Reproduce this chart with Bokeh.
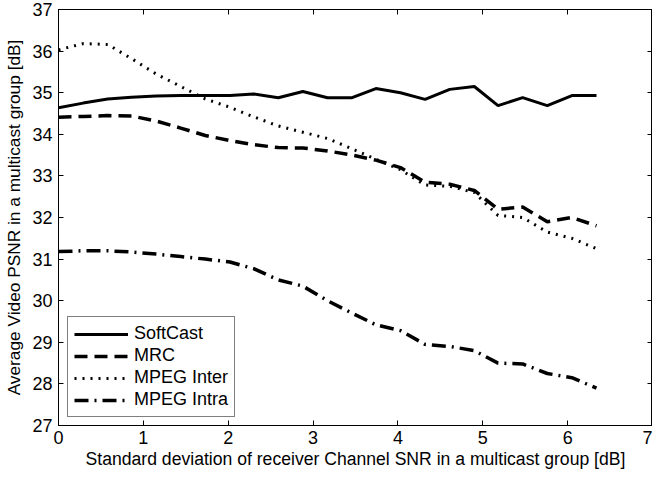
from bokeh.plotting import figure
from bokeh.models import LinearAxis, FixedTicker, Legend, LegendItem, Range1d
from bokeh.embed import file_html
from bokeh.resources import INLINE

# ---- data ----
x_std = [0.00, 0.29, 0.58, 0.86, 1.15, 1.44, 1.73, 2.02, 2.30, 2.59, 2.88, 3.17,
         3.46, 3.74, 4.03, 4.32, 4.61, 4.90, 5.18, 5.47, 5.76, 6.05, 6.34]
softcast = [34.64, 34.75, 34.85, 34.89, 34.92, 34.93, 34.93, 34.93, 34.97, 34.88, 35.03, 34.88,
            34.88, 35.10, 35.00, 34.84, 35.08, 35.15, 34.69, 34.88, 34.69, 34.93, 34.93]
mrc = [34.41, 34.43, 34.45, 34.44, 34.32, 34.15, 33.97, 33.85, 33.75, 33.68, 33.67, 33.60,
       33.50, 33.38, 33.20, 32.85, 32.80, 32.65, 32.20, 32.25, 31.90, 32.00, 31.80]
mpeg_inter = [36.03, 36.18, 36.16, 35.82, 35.45, 35.15, 34.85, 34.65, 34.42, 34.20, 34.05, 33.90,
              33.65, 33.40, 33.15, 32.78, 32.75, 32.60, 32.05, 32.00, 31.65, 31.50, 31.25]
mpeg_intra = [31.18, 31.20, 31.20, 31.17, 31.12, 31.06, 31.00, 30.93, 30.77, 30.50, 30.35, 30.00,
              29.70, 29.42, 29.28, 28.95, 28.90, 28.80, 28.50, 28.48, 28.25, 28.15, 27.90]
series_names = ["SoftCast", "MRC", "MPEG Inter", "MPEG Intra"]
x_ticks = [0, 1, 2, 3, 4, 5, 6, 7]
y_ticks = [27, 28, 29, 30, 31, 32, 33, 34, 35, 36, 37]

FONT = "Liberation Sans"

p = figure(width=652, height=479, output_backend="svg", toolbar_location=None,
           x_range=Range1d(0, 7), y_range=Range1d(27, 37),
           min_border_left=58, min_border_right=0, min_border_top=9, min_border_bottom=54,
           background_fill_color="white", border_fill_color="white")
p.outline_line_color = "black"
p.outline_line_width = 1
p.xgrid.visible = False
p.ygrid.visible = False

def style_axis(ax, ticks, labels=True):
    ax.axis_line_color = "black"
    ax.major_tick_line_color = "black"
    ax.major_tick_in = 5
    ax.major_tick_out = 0
    ax.minor_tick_line_color = None
    ax.major_label_text_font = FONT
    ax.major_label_text_color = "black"
    ax.axis_label_text_font = FONT
    ax.axis_label_text_font_style = "normal"
    ax.axis_label_text_color = "black"
    if not labels:
        ax.major_label_overrides = {t: "" for t in ticks}
        ax.major_label_standoff = 0
        ax.major_label_text_font_size = "1px"

p.xaxis.ticker = FixedTicker(ticks=x_ticks)
p.yaxis.ticker = FixedTicker(ticks=y_ticks)
style_axis(p.xaxis[0], x_ticks)
style_axis(p.yaxis[0], y_ticks)
p.xaxis.major_label_text_font_size = "18px"
p.yaxis.major_label_text_font_size = "18px"
p.xaxis.major_label_standoff = 5
p.yaxis.major_label_standoff = 6
p.xaxis.axis_label = "Standard deviation of receiver Channel SNR in a multicast group [dB]"
p.yaxis.axis_label = "Average Video PSNR in a multicast group [dB]"
p.xaxis.axis_label_text_font_size = "17.6px"
p.yaxis.axis_label_text_font_size = "17.3px"
p.xaxis.axis_label_standoff = 2
p.yaxis.axis_label_standoff = 5

top = LinearAxis(ticker=FixedTicker(ticks=x_ticks))
style_axis(top, x_ticks, labels=False)
p.add_layout(top, "above")
right = LinearAxis(ticker=FixedTicker(ticks=y_ticks))
style_axis(right, y_ticks, labels=False)
p.add_layout(right, "right")

r1 = p.line(x_std, softcast, line_color="black", line_width=3)
r2 = p.line(x_std, mrc, line_color="black", line_width=3.5, line_dash="13 7")
r3 = p.line(x_std, mpeg_inter, line_color="black", line_width=3, line_dash="2 6")
r4 = p.line(x_std, mpeg_intra, line_color="black", line_width=3.5, line_dash="14 6 2 6")

legend = Legend(items=[LegendItem(label=n, renderers=[r]) for n, r in zip(series_names, [r1, r2, r3, r4])],
                location=(9, 8))
legend.border_line_color = "black"
legend.border_line_width = 1
legend.background_fill_color = "white"
legend.background_fill_alpha = 1
legend.label_text_font = FONT
legend.label_text_font_size = "18px"
legend.label_text_color = "black"
legend.glyph_width = 54
legend.glyph_height = 20
legend.label_height = 20
legend.label_standoff = 6
legend.spacing = 1
legend.padding = 6
legend.margin = 0
p.add_layout(legend, "center")

open("out.html", "w").write(file_html(p, INLINE))
